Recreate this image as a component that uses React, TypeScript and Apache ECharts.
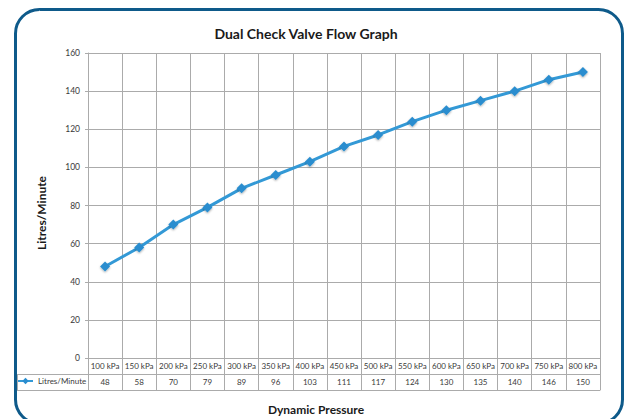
import React, { useEffect, useRef } from "react";
import * as echarts from "echarts";

const pressures = [
  "100 kPa", "150 kPa", "200 kPa", "250 kPa", "300 kPa", "350 kPa", "400 kPa", "450 kPa",
  "500 kPa", "550 kPa", "600 kPa", "650 kPa", "700 kPa", "750 kPa", "800 kPa",
];
const flow = [48, 58, 70, 79, 89, 96, 103, 111, 117, 124, 130, 135, 140, 146, 150];
const yMin = 0;
const yMax = 160;
const yStep = 20;
const chartTitle = "Dual Check Valve Flow Graph";
const xTitle = "Dynamic Pressure";
const yTitle = "Litres/Minute";
const seriesName = "Litres/Minute";

const FONT = 'Lato, "Liberation Sans", sans-serif';
const GRID = "#ababab";
const LABEL = "#3a3a3a";

export default function App() {
  const ref = useRef<HTMLDivElement>(null);
  useEffect(() => {
    if (!ref.current) return;
    const chart = echarts.init(ref.current, null, { renderer: "svg" });
    const catAxisBase = {
      type: "category" as const,
      position: "bottom" as const,
      boundaryGap: true,
      axisLine: { show: true, lineStyle: { color: GRID, width: 1 } },
      axisTick: { show: false },
      splitLine: { show: false },
      axisLabel: { fontSize: 8, color: LABEL, fontFamily: FONT, margin: 4, interval: 0 },
    };
    chart.setOption({
      animation: false,
      backgroundColor: "#ffffff",
      textStyle: { fontFamily: FONT },
      grid: { left: 88, right: 30, top: 53, bottom: 61, containLabel: false },
      legend: {
        show: true,
        data: [seriesName],
        left: 17,
        top: 377,
        itemWidth: 15,
        itemHeight: 8,
        itemGap: 4,
        padding: 0,
        textStyle: { fontSize: 8, color: LABEL, fontFamily: FONT },
      },
      xAxis: [
        {
          ...catAxisBase,
          data: pressures,
          axisTick: { show: true, interval: 0, length: 32, lineStyle: { color: GRID } },
          splitLine: { show: true, interval: 0, lineStyle: { color: GRID } },
        },
        {
          ...catAxisBase,
          data: flow.map(String),
          offset: 16,
        },
        {
          ...catAxisBase,
          data: pressures,
          offset: 32,
          axisLabel: { show: false },
        },
      ],
      yAxis: {
        type: "value",
        min: yMin,
        max: yMax,
        interval: yStep,
        axisLine: { show: true, lineStyle: { color: GRID } },
        axisTick: { show: true, length: 3, lineStyle: { color: GRID } },
        splitLine: { show: true, lineStyle: { color: GRID } },
        axisLabel: { fontSize: 8.5, color: LABEL, fontFamily: FONT, margin: 8 },
      },
      series: [
        {
          name: seriesName,
          type: "line",
          xAxisIndex: 0,
          data: flow,
          symbol: "diamond",
          symbolSize: 10,
          lineStyle: { color: "#3399d6", width: 3 },
          itemStyle: {
            color: "#2a8dcf",
            shadowColor: "rgba(0,0,0,0.35)",
            shadowBlur: 2,
            shadowOffsetY: 1,
          },
        },
      ],
      graphic: [
        {
          type: "rect",
          shape: { x: 15.5, y: 9.5, width: 607, height: 414, r: 24 },
          style: { fill: "none", stroke: "#0e5a8a", lineWidth: 3 },
          silent: true,
        },
        {
          type: "line",
          shape: { x1: 17, y1: 374.5, x2: 88, y2: 374.5 },
          style: { stroke: GRID, lineWidth: 1 },
        },
        {
          type: "line",
          shape: { x1: 17, y1: 390.5, x2: 88, y2: 390.5 },
          style: { stroke: GRID, lineWidth: 1 },
        },
        {
          type: "line",
          shape: { x1: 17.5, y1: 374.5, x2: 17.5, y2: 390.5 },
          style: { stroke: GRID, lineWidth: 1 },
        },
        {
          type: "text",
          x: 306,
          y: 33,
          style: {
            text: chartTitle,
            align: "center",
            verticalAlign: "middle",
            font: `bold 14px ${FONT}`,
            fill: "#1a1a1a",
          },
        },
        {
          type: "text",
          x: 316,
          y: 409,
          style: {
            text: xTitle,
            align: "center",
            verticalAlign: "middle",
            font: `bold 12px ${FONT}`,
            fill: "#1a1a1a",
          },
        },
        {
          type: "text",
          x: 41,
          y: 213,
          rotation: Math.PI / 2,
          style: {
            text: yTitle,
            align: "center",
            verticalAlign: "middle",
            font: `bold 12px ${FONT}`,
            fill: "#1a1a1a",
          },
        },
      ],
    });
    return () => chart.dispose();
  }, []);
  return (
    <div
      ref={ref}
      style={{ position: "fixed", left: 0, top: 0, width: 630, height: 419, background: "#fff" }}
    />
  );
}
